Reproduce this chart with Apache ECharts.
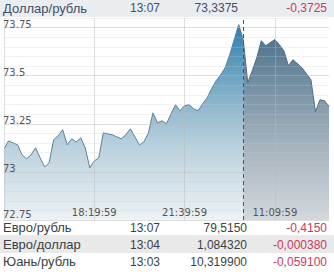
<!DOCTYPE html>
<html>
<head>
<meta charset="utf-8">
<script src="https://cdn.jsdelivr.net/npm/echarts@6/dist/echarts.min.js"></script>
<style>
  html, body { margin: 0; padding: 0; background: #fff; }
  #wrap { position: relative; width: 334px; height: 272px; overflow: hidden; background: #fff; }
  #chart { position: absolute; left: 0; top: 0; width: 334px; height: 272px; }
  .row { position: absolute; left: 0; width: 334px; height: 17px; font-family: "Liberation Sans", Arial, sans-serif; font-size: 12px; line-height: 17px; color: #3a3f46; }
  .row span { position: absolute; top: 0; white-space: nowrap; }
  .row.tb span { top: 5px; line-height: 10px; }
  .row span.nm { font-size: 13px; }
  .hdr { background: #eaedf0; color: #3d5068; }
  .alt { background: #e9e9e9; }
  .neg { color: #c83a62; }
</style>
</head>
<body>
<div id="wrap">
  <div id="chart"></div>
  <div id="rows"></div>
</div>
<script>
// ---- data ----
const tickIndices = [20, 40, 60];
const tickLabels = ['18:19:59', '21:39:59', '11:09:59'];
const splitIndex = 53;
const rateValues = [
  73.120, 73.161, 73.151, 73.141, 73.089, 73.068, 73.089, 73.125, 73.073, 73.026,
  73.047, 73.167, 73.188, 73.219, 73.141, 73.172, 73.156, 73.177, 73.125, 73.021,
  73.057, 73.073, 73.203, 73.198, 73.193, 73.182, 73.172, 73.193, 73.224, 73.182,
  73.141, 73.156, 73.203, 73.307, 73.255, 73.266, 73.250, 73.302, 73.349, 73.318,
  73.344, 73.349, 73.328, 73.318, 73.354, 73.385, 73.432, 73.474, 73.505, 73.542,
  73.609, 73.688, 73.766, 73.688, 73.464, 73.526, 73.594, 73.682, 73.656, 73.672,
  73.688, 73.661, 73.630, 73.552, 73.583, 73.563, 73.542, 73.510, 73.479, 73.313,
  73.375, 73.370, 73.340
];
const yMin = 72.75, yMax = 73.8;

const pairNames = ['Доллар/рубль', 'Евро/рубль', 'Евро/доллар', 'Юань/рубль'];
const pairTimes = ['13:07', '13:07', '13:04', '13:03'];
const pairValues = ['73,3375', '79,5150', '1,084320', '10,319900'];
const pairChanges = ['-0,3725', '-0,4150', '-0,000380', '-0,059100'];

// ---- rows (header + table) ----
const rowTops = [0, 218, 235, 252];
const rowsEl = document.getElementById('rows');
pairNames.forEach((name, i) => {
  const r = document.createElement('div');
  r.className = 'row' + (i === 0 ? ' hdr' : ' tb') + (i === 2 ? ' alt' : '');
  r.style.top = rowTops[i] + 'px';
  if (i > 0) r.style.height = '18px';
  const valRight = i === 0 ? 96 : 87;
  r.innerHTML =
    '<span class="nm" style="left:3px">' + name + '</span>' +
    '<span style="left:130px">' + pairTimes[i] + '</span>' +
    '<span style="right:' + valRight + 'px">' + pairValues[i] + '</span>' +
    '<span class="neg" style="right:7px">' + pairChanges[i] + '</span>';
  rowsEl.appendChild(r);
});

// ---- chart ----
const categories = rateValues.map((_, i) => String(i));
const prevData = rateValues.map((v, i) => (i <= splitIndex ? v : '-'));
const todayData = rateValues.map((v, i) => (i >= splitIndex ? v : '-'));

const chart = echarts.init(document.getElementById('chart'), null, { renderer: 'svg' });
const majorCol = 'rgba(185,185,185,0.45)';
const minorCol = 'rgba(200,200,200,0.25)';
chart.setOption({
  animation: false,
  grid: { left: 3, right: 5, top: 18, bottom: 52 },
  xAxis: {
    type: 'category',
    data: categories,
    boundaryGap: false,
    z: 5,
    axisLine: { show: false },
    axisTick: { show: false },
    axisLabel: {
      inside: true,
      margin: 3,
      interval: (idx) => tickIndices.includes(idx),
      formatter: (val, idx) => {
        const k = tickIndices.indexOf(Number(val));
        return k >= 0 ? tickLabels[k] : '';
      },
      color: '#555',
      fontFamily: 'DejaVu Sans',
      fontSize: 10
    },
    splitLine: {
      show: true,
      interval: (idx) => idx === 0 || tickIndices.includes(idx),
      lineStyle: { color: majorCol, width: 1 }
    }
  },
  yAxis: {
    type: 'value',
    min: yMin,
    max: yMax,
    interval: 0.05,
    z: 5,
    axisLine: { show: false },
    axisTick: { show: false },
    axisLabel: {
      inside: true,
      margin: -1,
      verticalAlign: 'bottom',
      lineHeight: 7,
      showMaxLabel: false,
      color: '#555',
      fontFamily: 'DejaVu Sans',
      fontSize: 10,
      rich: {
        lo: { color: '#555', fontFamily: 'DejaVu Sans', fontSize: 10, lineHeight: 7, padding: [0, 0, 4, 0] }
      },
      formatter: (v) => {
        const q = v * 4;
        if (Math.abs(q - Math.round(q)) > 1e-6) return '';
        const s = String(+v.toFixed(2));
        return Math.abs(v - yMin) < 1e-6 ? '{lo|' + s + '}' : s;
      }
    },
    splitLine: {
      show: true,
      lineStyle: { color: [majorCol, minorCol, minorCol, minorCol, minorCol], width: 1 }
    }
  },
  series: [
    {
      type: 'line',
      data: prevData,
      symbol: 'none',
      lineStyle: { color: '#5b7f98', width: 1 },
      areaStyle: {
        opacity: 1,
        color: new echarts.graphic.LinearGradient(0, 0, 0, 1, [
          { offset: 0, color: '#2f7eae' },
          { offset: 0.38, color: '#88b3cb' },
          { offset: 0.64, color: '#bcd3df' },
          { offset: 1, color: '#edf2f5' }
        ])
      }
    },
    {
      type: 'line',
      data: todayData,
      symbol: 'none',
      lineStyle: { color: '#4f6c82', width: 1 },
      areaStyle: {
        opacity: 1,
        color: new echarts.graphic.LinearGradient(0, 0, 0, 1, [
          { offset: 0, color: '#50758e' },
          { offset: 0.33, color: '#8199aa' },
          { offset: 0.61, color: '#a7b5c0' },
          { offset: 1, color: '#d3d8dc' }
        ])
      },
      markLine: {
        silent: true,
        symbol: 'none',
        label: { show: false },
        lineStyle: { color: '#3e5a74', type: [4, 3], width: 1 },
        data: [{ xAxis: String(splitIndex) }],
        z: 6
      }
    }
  ]
});
</script>
</body>
</html>
